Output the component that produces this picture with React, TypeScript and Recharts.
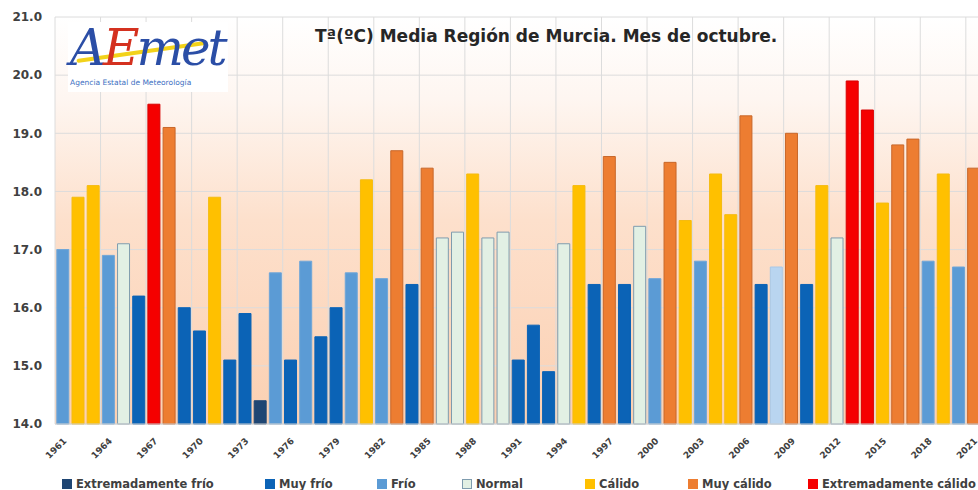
import { Bar, BarChart, CartesianGrid, Cell, Legend, XAxis, YAxis } from "recharts";

const years = [
  "1961", "1962", "1963", "1964", "1965", "1966", "1967", "1968", "1969", "1970",
  "1971", "1972", "1973", "1974", "1975", "1976", "1977", "1978", "1979", "1980",
  "1981", "1982", "1983", "1984", "1985", "1986", "1987", "1988", "1989", "1990",
  "1991", "1992", "1993", "1994", "1995", "1996", "1997", "1998", "1999", "2000",
  "2001", "2002", "2003", "2004", "2005", "2006", "2007", "2008", "2009", "2010",
  "2011", "2012", "2013", "2014", "2015", "2016", "2017", "2018", "2019", "2020",
  "2021",
];

const temps = [
  17.0, 17.9, 18.1, 16.9, 17.1, 16.2, 19.5, 19.1, 16.0, 15.6,
  17.9, 15.1, 15.9, 14.4, 16.6, 15.1, 16.8, 15.5, 16.0, 16.6,
  18.2, 16.5, 18.7, 16.4, 18.4, 17.2, 17.3, 18.3, 17.2, 17.3,
  15.1, 15.7, 14.9, 17.1, 18.1, 16.4, 18.6, 16.4, 17.4, 16.5,
  18.5, 17.5, 16.8, 18.3, 17.6, 19.3, 16.4, 16.7, 19.0, 16.4,
  18.1, 17.2, 19.9, 19.4, 17.8, 18.8, 18.9, 16.8, 18.3, 16.7,
  18.4,
];

// EF extremadamente frío, MF muy frío, F frío, FN frío (tono claro), N normal,
// C cálido, MC muy cálido, EC extremadamente cálido
const classes = [
  "F", "C", "C", "F", "N", "MF", "EC", "MC", "MF", "MF",
  "C", "MF", "MF", "EF", "F", "MF", "F", "MF", "MF", "F",
  "C", "F", "MC", "MF", "MC", "N", "N", "C", "N", "N",
  "MF", "MF", "MF", "N", "C", "MF", "MC", "MF", "N", "F",
  "MC", "C", "F", "C", "C", "MC", "MF", "FN", "MC", "MF",
  "C", "N", "EC", "EC", "C", "MC", "MC", "F", "C", "F",
  "MC",
];

const legendKeys = ["EF", "MF", "F", "N", "C", "MC", "EC"];
const legendLabels = [
  "Extremadamente frío",
  "Muy frío",
  "Frío",
  "Normal",
  "Cálido",
  "Muy cálido",
  "Extremadamente cálido",
];

const yTicks = [14, 15, 16, 17, 18, 19, 20, 21];

const FILL: Record<string, string> = {
  EF: "#1f4673",
  MF: "#0b63b6",
  F: "#5b9bd5",
  FN: "#b9d5f0",
  N: "#e2f0e4",
  C: "#ffc000",
  MC: "#ed7d31",
  EC: "#f50000",
};

const STROKE: Record<string, string> = {
  EF: "#1f4673",
  MF: "#0b63b6",
  F: "#6fa6d8",
  FN: "#a9c8e6",
  N: "#7f9cae",
  C: "#f5bb10",
  MC: "#c8672a",
  EC: "#d80000",
};

// left edge of each legend item, in px
const LEGEND_X = [62, 265, 377, 462, 585, 688, 808];

const data = years.map((year, i) => ({ year, temp: temps[i], cls: classes[i] }));

const FONT = '"DejaVu Sans", Verdana, sans-serif';

function LegendRow() {
  return (
    <div
      style={{
        position: "relative",
        height: 16,
        top: 2,
        fontFamily: FONT,
        fontWeight: "bold",
        fontSize: 11.5,
        color: "#404040",
        lineHeight: "16px",
        whiteSpace: "nowrap",
      }}
    >
      {legendKeys.map((k, i) => (
        <div
          key={k}
          style={{ position: "absolute", left: LEGEND_X[i], top: 0, display: "flex", alignItems: "center", gap: 4 }}
        >
          <span
            style={{
              display: "inline-block",
              width: 10,
              height: 10,
              background: FILL[k],
              border: k === "N" ? "1px solid #7f9cae" : "none",
              boxSizing: "border-box",
            }}
          />
          <span>{legendLabels[i]}</span>
        </div>
      ))}
    </div>
  );
}

export default function App() {
  return (
    <div
      style={{
        position: "absolute",
        left: 0,
        top: 0,
        width: 978,
        height: 490,
        overflow: "hidden",
        background: "#fff",
      }}
    >
      <BarChart
        width={981}
        height={490}
        data={data}
        margin={{ top: 17, right: 0, bottom: 0, left: 0 }}
        barCategoryGap="12%"
      >
        <defs>
          <linearGradient id="plotBg" x1="0" y1="0" x2="0" y2="1">
            <stop offset="0" stopColor="#ffffff" />
            <stop offset="0.2" stopColor="#fef6f1" />
            <stop offset="0.5" stopColor="#fde0cc" />
            <stop offset="1" stopColor="#fbd0b2" />
          </linearGradient>
        </defs>
        <CartesianGrid
          fill="url(#plotBg)"
          fillOpacity={1}
          stroke="#dcdcdc"
          verticalCoordinatesGenerator={({ offset }: any) => {
            const bw = offset.width / years.length;
            return years.map((_, i) => offset.left + i * bw).filter((_, i) => i % 3 === 0);
          }}
        />
        <XAxis
          dataKey="year"
          interval={2}
          height={50}
          axisLine={{ stroke: "#d0d0d0" }}
          tickLine={false}
          tick={{ fontFamily: FONT, fontWeight: "bold", fontSize: 9, fill: "#404040", angle: -45, textAnchor: "end" } as any}
          tickMargin={7}
        />
        <YAxis
          domain={[14, 21]}
          ticks={yTicks}
          width={55}
          axisLine={false}
          tickLine={false}
          tickMargin={7}
          tickFormatter={(v: number) => v.toFixed(1)}
          tick={{ fontFamily: FONT, fontWeight: "bold", fontSize: 12, fill: "#404040" }}
        />
        <Legend verticalAlign="bottom" height={16} wrapperStyle={{ left: 0, width: 978 }} content={() => <LegendRow />} />
        <Bar dataKey="temp" isAnimationActive={false}>
          {data.map((d) => (
            <Cell key={d.year} fill={FILL[d.cls]} stroke={STROKE[d.cls]} strokeWidth={1} />
          ))}
        </Bar>
      </BarChart>

      <div
        style={{
          position: "absolute",
          left: 68,
          top: 22,
          width: 160,
          height: 70,
          background: "#fff",
        }}
      >
        <div
          style={{
            position: "absolute",
            left: 8,
            top: 28,
            width: 130,
            height: 4,
            background: "#f2d21a",
            transform: "rotate(-8deg)",
            borderRadius: 3,
          }}
        />
        <div
          style={{
            position: "relative",
            paddingLeft: 2,
            fontFamily: '"DejaVu Serif", serif',
            fontStyle: "italic",
            fontSize: 50,
            lineHeight: "52px",
            color: "#2b4ea6",
            letterSpacing: -3,
          }}
        >
          A<span style={{ color: "#d4311f" }}>E</span>met
        </div>
        <div style={{ fontFamily: FONT, fontSize: 7.5, color: "#3d6fc2", paddingLeft: 2, marginTop: 4 }}>
          Agencia Estatal de Meteorología
        </div>
      </div>

      <div
        style={{
          position: "absolute",
          left: 315,
          top: 26,
          fontFamily: FONT,
          fontWeight: "bold",
          fontSize: 17,
          color: "#262626",
          whiteSpace: "nowrap",
        }}
      >
        Tª(ºC) Media Región de Murcia. Mes de octubre.
      </div>
    </div>
  );
}
